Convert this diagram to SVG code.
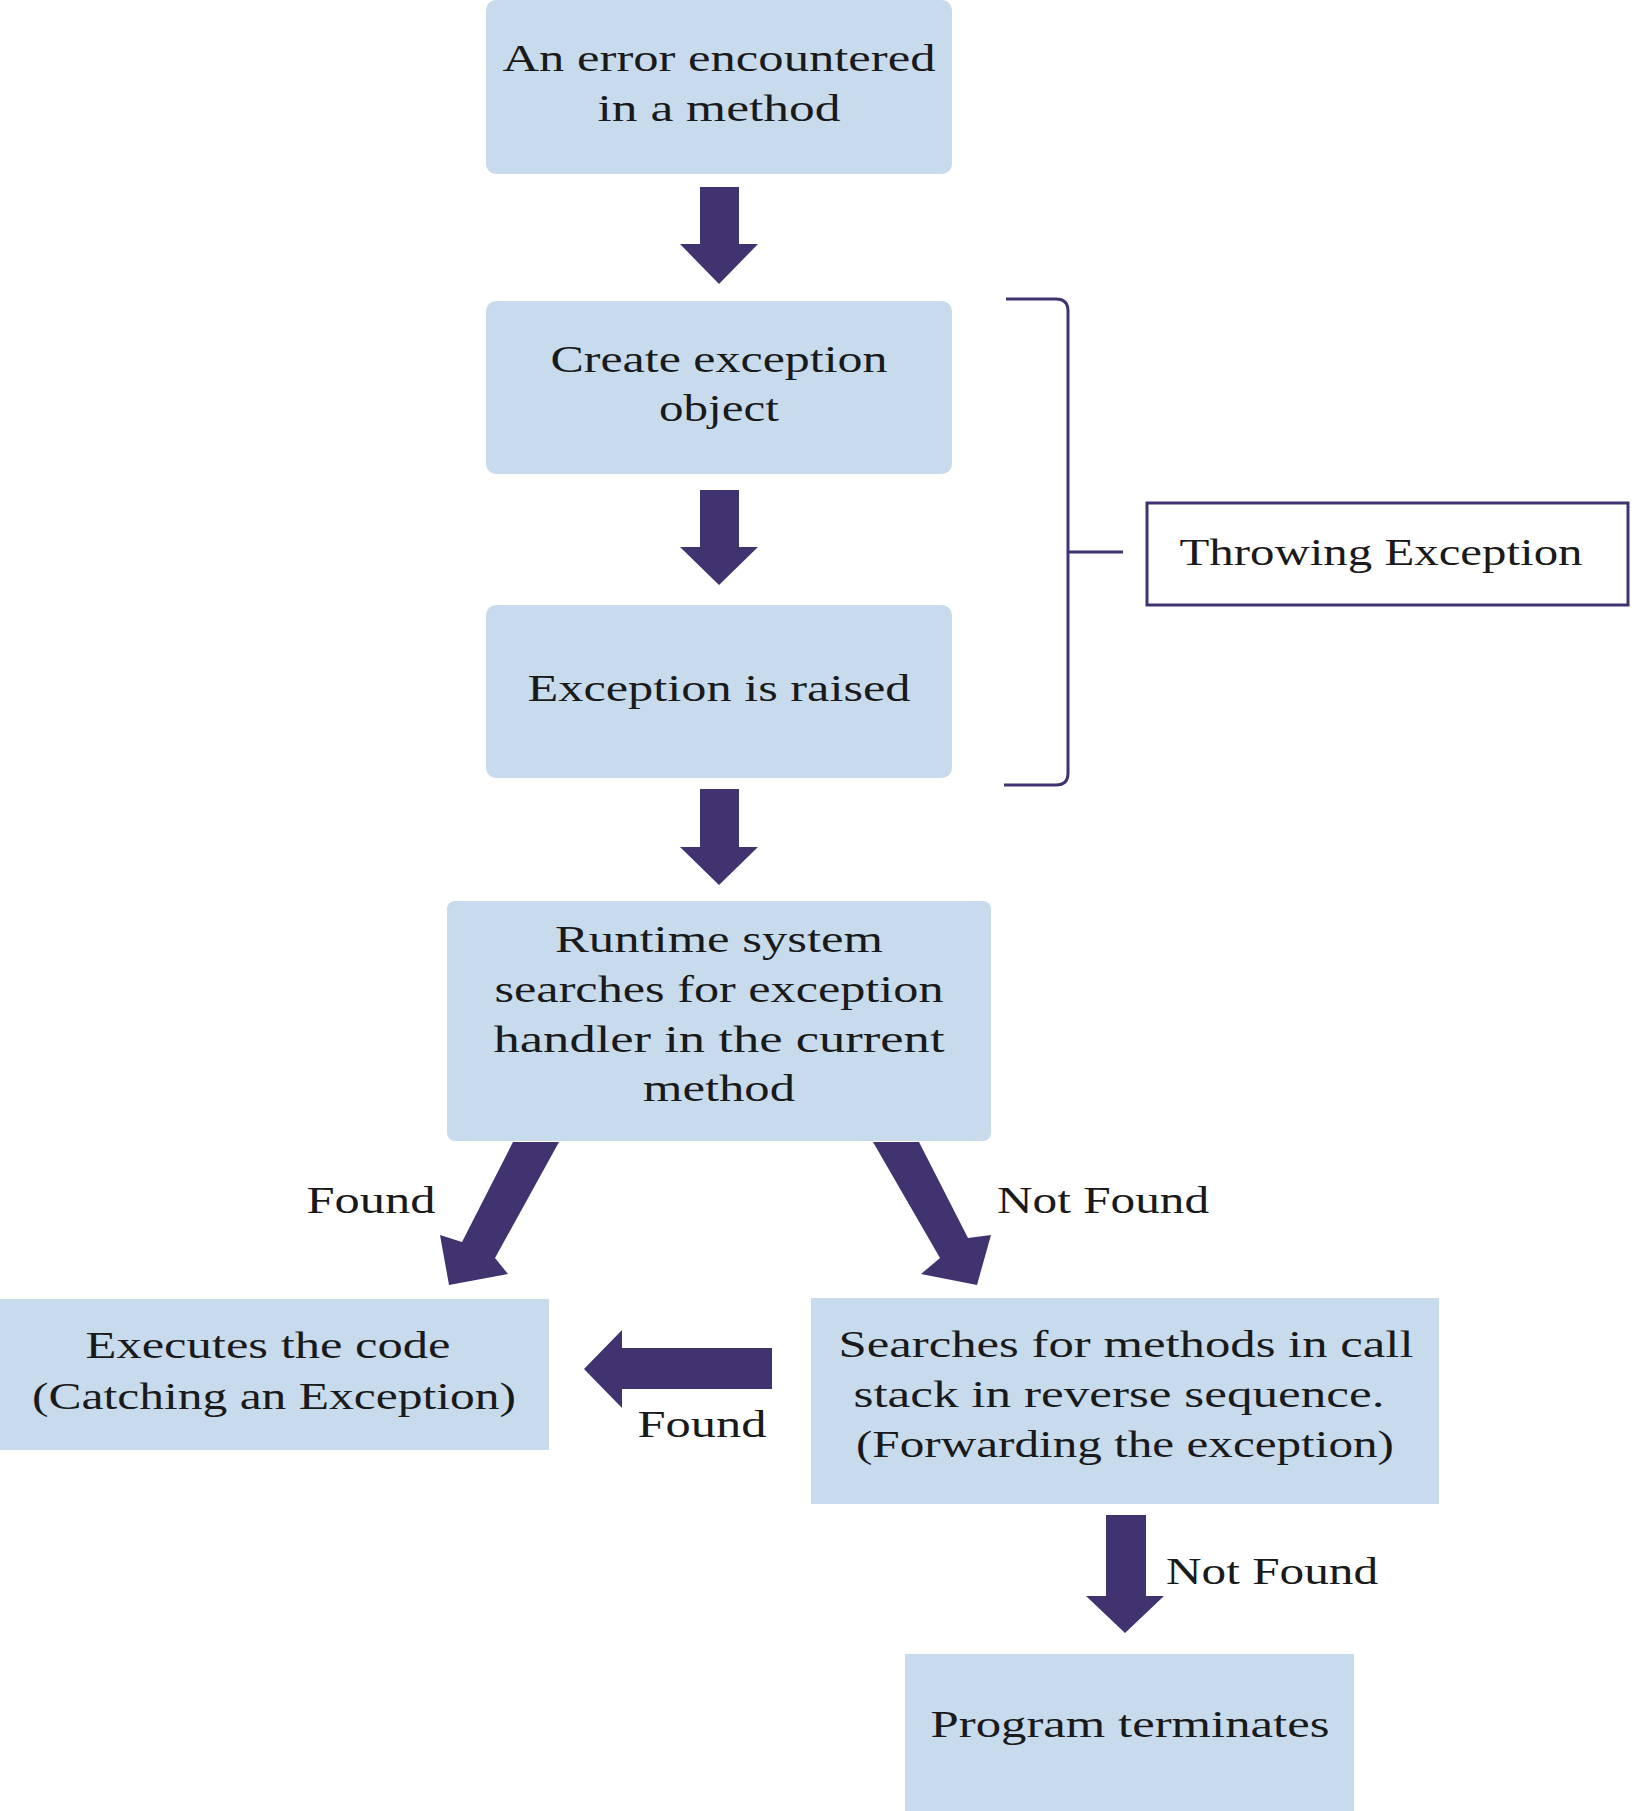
<svg xmlns="http://www.w3.org/2000/svg" width="1636" height="1811" viewBox="0 0 1636 1811">
<style>
.b{fill:#c8dbec}
text{font-family:"Liberation Serif","DejaVu Serif",serif;font-size:38px;fill:#1a1a1a;text-anchor:middle}
.a{fill:#413270}
.l{text-anchor:start}
</style>
<rect width="1636" height="1811" fill="#fff"/>
<g id="n1"><rect class="b" x="486" y="0" width="466" height="174" rx="10"/>
<text x="719" y="71" textLength="433" lengthAdjust="spacingAndGlyphs">An error encountered</text>
<text x="719" y="121" textLength="243" lengthAdjust="spacingAndGlyphs">in a method</text></g>
<g id="n2"><rect class="b" x="486" y="301" width="466" height="173" rx="10"/>
<text x="719" y="372" textLength="337" lengthAdjust="spacingAndGlyphs">Create exception</text>
<text x="719" y="421" textLength="120" lengthAdjust="spacingAndGlyphs">object</text></g>
<g id="n3"><rect class="b" x="486" y="605" width="466" height="173" rx="10"/>
<text x="719" y="701" textLength="383" lengthAdjust="spacingAndGlyphs">Exception is raised</text></g>
<g id="n4"><rect class="b" x="447" y="901" width="544" height="240" rx="8"/>
<text x="719" y="952" textLength="328" lengthAdjust="spacingAndGlyphs">Runtime system</text>
<text x="719" y="1002" textLength="449" lengthAdjust="spacingAndGlyphs">searches for exception</text>
<text x="719" y="1052" textLength="451" lengthAdjust="spacingAndGlyphs">handler in the current</text>
<text x="719" y="1101" textLength="152" lengthAdjust="spacingAndGlyphs">method</text></g>
<g id="n5"><rect class="b" x="0" y="1299" width="549" height="151"/>
<text x="268" y="1358" textLength="365" lengthAdjust="spacingAndGlyphs">Executes the code</text>
<text x="274" y="1409" textLength="484" lengthAdjust="spacingAndGlyphs">(Catching an Exception)</text></g>
<g id="n6"><rect class="b" x="811" y="1298" width="628" height="206"/>
<text x="1126" y="1357" textLength="575" lengthAdjust="spacingAndGlyphs">Searches for methods in call</text>
<text x="1119" y="1407" textLength="531" lengthAdjust="spacingAndGlyphs">stack in reverse sequence.</text>
<text x="1125" y="1457" textLength="538" lengthAdjust="spacingAndGlyphs">(Forwarding the exception)</text></g>
<g id="n7"><rect class="b" x="905" y="1654" width="449" height="157"/>
<text x="1130" y="1737" textLength="399" lengthAdjust="spacingAndGlyphs">Program terminates</text></g>
<g id="throwing"><rect x="1147" y="503" width="481" height="102" fill="#fff" stroke="#413270" stroke-width="3"/>
<text x="1381" y="565" textLength="403" lengthAdjust="spacingAndGlyphs">Throwing Exception</text></g>
<g id="connectors">
<path d="M1006 299H1056Q1068 299 1068 311V773Q1068 785 1056 785H1004M1068 552H1123" fill="none" stroke="#413270" stroke-width="3"/>
<polygon class="a" points="700,187 739,187 739,244 758,244 719,284 680,244 700,244"/>
<polygon class="a" points="700,490 739,490 739,547 758,547 719,585 680,547 700,547"/>
<polygon class="a" points="700,789 739,789 739,847 758,847 719,885 680,847 700,847"/>
<polygon class="a" points="513,1142 559,1142 495,1258 508,1274 449,1285 440,1235 462,1242"/>
<polygon class="a" points="873,1142 919,1142 968,1238 991,1235 977,1285 921,1274 940,1258"/>
<polygon class="a" points="772,1348 772,1389 622,1389 622,1408 584,1369 622,1330 622,1348"/>
<polygon class="a" points="1106,1515 1146,1515 1146,1596 1164,1596 1125,1633 1086,1596 1106,1596"/>
<text x="371" y="1213" textLength="129" lengthAdjust="spacingAndGlyphs">Found</text>
<text class="l" x="997" y="1213" textLength="212" lengthAdjust="spacingAndGlyphs">Not Found</text>
<text x="702" y="1437" textLength="129" lengthAdjust="spacingAndGlyphs">Found</text>
<text class="l" x="1166" y="1584" textLength="212" lengthAdjust="spacingAndGlyphs">Not Found</text>
</g>
</svg>
